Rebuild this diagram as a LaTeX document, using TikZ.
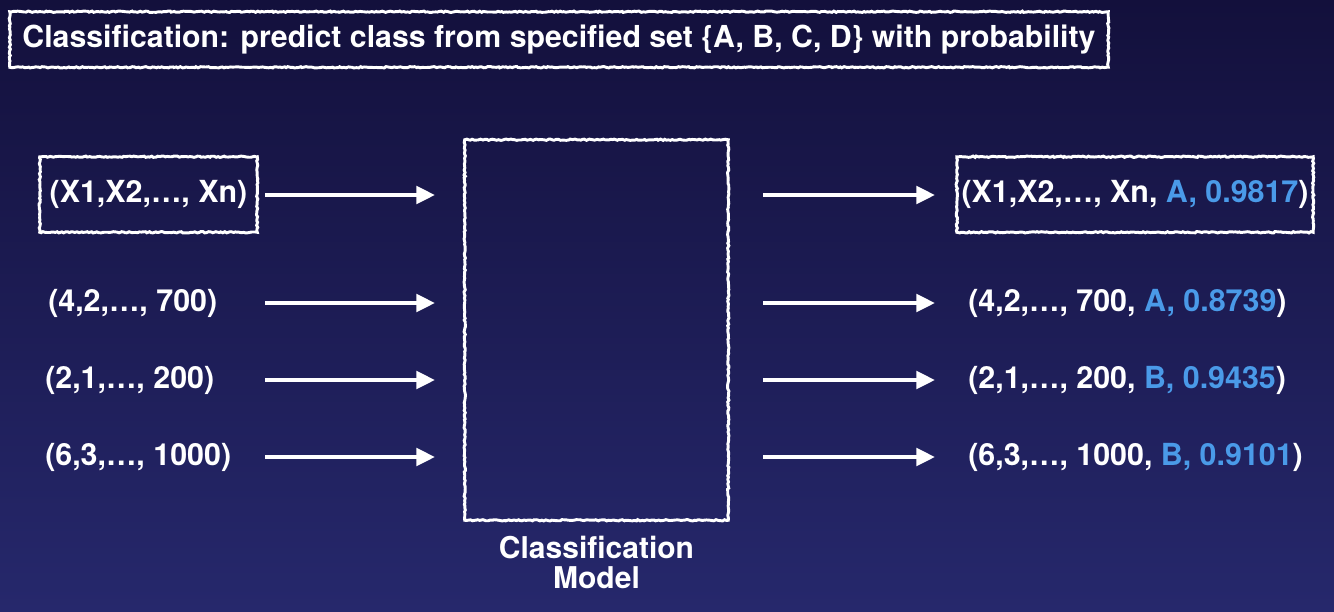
\documentclass[tikz,border=0pt]{standalone}
\usepackage{fontspec}
\setmainfont{TeX Gyre Heros}
\usetikzlibrary{decorations.pathmorphing,arrows.meta,positioning}
\definecolor{bgtop}{RGB}{19,16,60}
\definecolor{bgbot}{RGB}{38,40,108}
\definecolor{probblue}{RGB}{74,154,232}
\tikzset{
  chalk/.style={draw=white,line width=2.2pt,decorate,
    decoration={random steps,segment length=1.5pt,amplitude=0.5pt}},
  arr/.style={white,line width=3pt,-{Triangle[length=14pt,width=13pt]}},
  rowtxt/.style={anchor=west,inner sep=0pt,font=\bfseries\fontsize{22.8}{27}\selectfont}
}

\begin{document}
\begin{tikzpicture}[x=0.75pt,y=-0.75pt,text=white]
    \shade[top color=bgtop,bottom color=bgbot] (0,0) rectangle (1334,611);
    \useasboundingbox (0,0) rectangle (1334,611);
    \node[font=\bfseries\fontsize{22.7}{27}\selectfont,minimum width=823.5pt,minimum height=41.25pt] (title) at (559,39.5)
      {Classification: predict class from specified set \{A, B, C, D\} with probability};
    \draw[chalk] (title.south west) rectangle (title.north east);
    \node[font=\bfseries\fontsize{22.8}{27}\selectfont,minimum width=162.75pt,minimum height=56.25pt] (in1) at (148.5,194.5) {(X1,X2,…, Xn)};
    \draw[chalk] (in1.south west) rectangle (in1.north east);
    \node[rowtxt] (in2) at (48,303) {(4,2,…, 700)};
    \node[rowtxt] (in3) at (45,380) {(2,1,…, 200)};
    \node[rowtxt] (in4) at (45,457) {(6,3,…, 1000)};
    \node[minimum width=197.25pt,minimum height=285pt] (model) at (596.5,330) {};
    \draw[chalk] (model.south west) rectangle (model.north east);
    \node[below=8pt of model,align=center,font=\bfseries\fontsize{22.5}{23}\selectfont] (label) {Classification\\Model};
    \node[font=\bfseries\fontsize{22.8}{27}\selectfont,minimum width=262.5pt,minimum height=56.25pt] (out1) at (1135,194.5)
      {(X1,X2,…, Xn, \textcolor{probblue}{A, 0.9817})};
    \draw[chalk] (out1.south west) rectangle (out1.north east);
    \node[rowtxt] (out2) at (968,303) {(4,2,…, 700, \textcolor{probblue}{A, 0.8739})};
    \node[rowtxt] (out3) at (968,380) {(2,1,…, 200, \textcolor{probblue}{B, 0.9435})};
    \node[rowtxt] (out4) at (968,457) {(6,3,…, 1000, \textcolor{probblue}{B, 0.9101})};
    \foreach \i/\y in {1/195,2/303,3/380,4/457}{
      \coordinate (ls\i) at (265,\y);
      \coordinate (le\i) at (435,\y);
      \coordinate (rs\i) at (763,\y);
      \coordinate (re\i) at (935,\y);
      \draw[arr] (ls\i) -- (le\i);
      \draw[arr] (rs\i) -- (re\i);
    }
  \end{tikzpicture}
\end{document}
